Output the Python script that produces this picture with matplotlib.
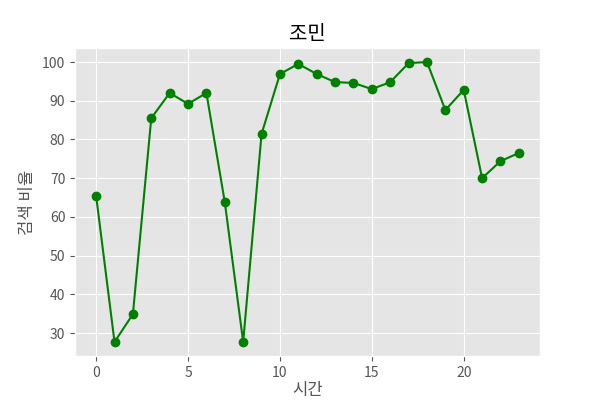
import matplotlib
matplotlib.use("Agg")
import matplotlib.pyplot as plt

plt.style.use('ggplot')
plt.rcParams['font.family'] = ['Noto Sans CJK KR', 'DejaVu Sans']
plt.rcParams['axes.unicode_minus'] = False

hours = list(range(24))
ratio = [65.4, 27.7, 34.9, 85.5, 92.0, 89.2, 92.0, 63.8, 27.7, 81.4,
         96.9, 99.5, 96.9, 94.8, 94.6, 93.0, 94.8, 99.7, 100.0, 87.6,
         92.8, 70.0, 74.4, 76.5]

fig = plt.figure(figsize=(6, 4), dpi=100)
plt.plot(hours, ratio, color='green', marker='o')
plt.title('조민', color='black')
plt.xlabel('시간', labelpad=2)
plt.ylabel('검색 비율')
plt.savefig('out.png')
